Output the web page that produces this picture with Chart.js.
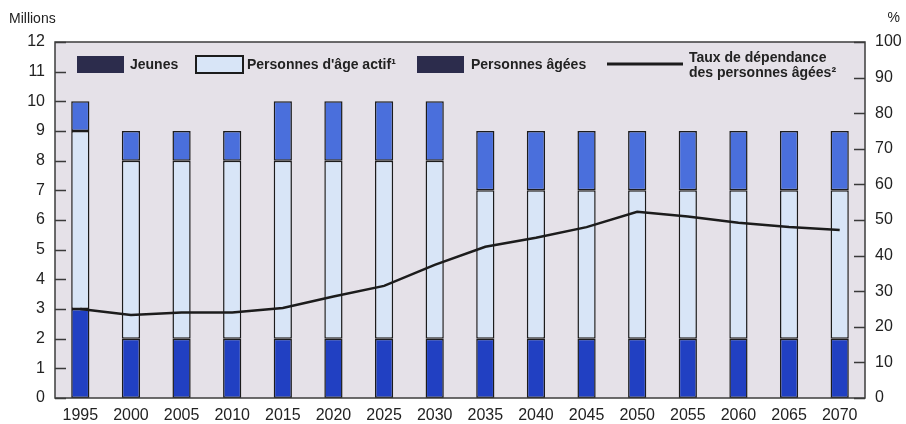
<!DOCTYPE html>
<html lang="fr">
<head>
<meta charset="utf-8">
<title>Population et taux de dépendance</title>
<script src="https://cdn.jsdelivr.net/npm/chart.js@4.4.1/dist/chart.umd.min.js"></script>
<style>
  html, body { margin: 0; padding: 0; background: #ffffff; }
  #wrap { width: 906px; height: 424px; position: relative; }
</style>
</head>
<body>
<div id="wrap"><canvas id="c" width="906" height="424"></canvas></div>
<script>
// Années de projection
const years = ['1995', '2000', '2005', '2010', '2015', '2020', '2025', '2030',
               '2035', '2040', '2045', '2050', '2055', '2060', '2065', '2070'];

// Population par groupe d'âge (millions)
const jeunes = [3, 2, 2, 2, 2, 2, 2, 2, 2, 2, 2, 2, 2, 2, 2, 2];
const ageActif = [6, 6, 6, 6, 6, 6, 6, 6, 5, 5, 5, 5, 5, 5, 5, 5];
const agees = [1, 1, 1, 1, 2, 2, 2, 2, 2, 2, 2, 2, 2, 2, 2, 2];

// Taux de dépendance des personnes âgées (%)
const tauxDependance = [25, 23.3, 24, 24, 25.3, 28.5, 31.5, 37.4,
                        42.5, 45, 48, 52.3, 51, 49.2, 48, 47.2];

// Graduations des deux axes
const millionsTicks = [0, 1, 2, 3, 4, 5, 6, 7, 8, 9, 10, 11, 12];
const pctTicks = [0, 10, 20, 30, 40, 50, 60, 70, 80, 90, 100];

const FONT = "'Liberation Sans', Arial, Helvetica, sans-serif";
const INK = '#222222';
const EDGE = '#1c1c1c';
const C_JEUNES = '#2140c2';
const C_ACTIF = '#d8e5f7';
const C_AGEES = '#4a6fdc';
const PLOT_BG = '#e5e1e8';
const SWATCH_DARK = '#2c2c4c';

// Fond gris de la zone de tracé
const plotBackground = {
  id: 'plotBackground',
  beforeDraw(chart) {
    const { ctx, chartArea: a } = chart;
    ctx.save();
    ctx.fillStyle = PLOT_BG;
    ctx.fillRect(a.left, a.top, a.right - a.left, a.bottom - a.top);
    ctx.restore();
  }
};

// Cadre, graduations intérieures, unités et légende
const frameAndLegend = {
  id: 'frameAndLegend',
  afterDraw(chart) {
    const { ctx, chartArea: a, scales } = chart;
    ctx.save();

    // graduations tournées vers l'intérieur
    ctx.strokeStyle = '#3a3a3a';
    ctx.lineWidth = 1.5;
    ctx.beginPath();
    scales.y.ticks.forEach(t => {
      const py = Math.round(scales.y.getPixelForValue(t.value)) + 0.5;
      ctx.moveTo(a.left, py); ctx.lineTo(a.left + 11, py);
    });
    scales.y1.ticks.forEach(t => {
      const py = Math.round(scales.y1.getPixelForValue(t.value)) + 0.5;
      ctx.moveTo(a.right, py); ctx.lineTo(a.right - 11, py);
    });
    ctx.stroke();

    // cadre
    ctx.strokeStyle = '#3c3c3c';
    ctx.lineWidth = 1.5;
    ctx.strokeRect(a.left, a.top, a.right - a.left, a.bottom - a.top);

    // unités des axes
    ctx.fillStyle = INK;
    ctx.font = '14px ' + FONT;
    ctx.textBaseline = 'middle';
    ctx.textAlign = 'left';
    ctx.fillText('Millions', 9, 19);
    ctx.textAlign = 'right';
    ctx.fillText('%', 900, 18);

    // légende
    const ds = chart.data.datasets;
    const rowY = 64;
    ctx.font = 'bold 14px ' + FONT;
    ctx.textAlign = 'left';
    ctx.textBaseline = 'middle';

    const swatch = (x, fill, border) => {
      ctx.fillStyle = fill;
      ctx.fillRect(x, rowY - 8, 47, 17);
      if (border) {
        ctx.strokeStyle = EDGE;
        ctx.lineWidth = 2;
        ctx.strokeRect(x, rowY - 8, 47, 17);
      }
    };
    swatch(77, SWATCH_DARK, false);
    ctx.fillStyle = INK;
    ctx.fillText(ds[0].label, 130, rowY + 1);

    swatch(196, C_ACTIF, true);
    ctx.fillStyle = INK;
    ctx.fillText(ds[1].label, 247, rowY + 1);

    swatch(417, SWATCH_DARK, false);
    ctx.fillStyle = INK;
    ctx.fillText(ds[2].label, 471, rowY + 1);

    ctx.strokeStyle = EDGE;
    ctx.lineWidth = 3;
    ctx.beginPath();
    ctx.moveTo(607, rowY); ctx.lineTo(683, rowY);
    ctx.stroke();
    ctx.fillStyle = INK;
    const lines = ds[3].label;
    ctx.fillText(lines[0], 689, 58);
    ctx.fillText(lines[1], 689, 73);

    ctx.restore();
  }
};

const barStyle = {
  borderColor: EDGE,
  borderWidth: 1.5,
  borderSkipped: false,
  barPercentage: 0.36,
  categoryPercentage: 1.0,
  yAxisID: 'y',
  stack: 'pop',
  order: 1
};

new Chart(document.getElementById('c'), {
  type: 'bar',
  data: {
    labels: years,
    datasets: [
      Object.assign({ label: 'Jeunes', data: jeunes, backgroundColor: C_JEUNES }, barStyle),
      Object.assign({ label: "Personnes d'âge actif¹", data: ageActif, backgroundColor: C_ACTIF }, barStyle),
      Object.assign({ label: 'Personnes âgées', data: agees, backgroundColor: C_AGEES }, barStyle),
      {
        type: 'line',
        label: ['Taux de dépendance', 'des personnes âgées²'],
        data: tauxDependance,
        yAxisID: 'y1',
        borderColor: EDGE,
        borderWidth: 2.5,
        pointRadius: 0,
        tension: 0,
        fill: false,
        order: 0
      }
    ]
  },
  options: {
    responsive: false,
    animation: false,
    devicePixelRatio: 1,
    layout: { padding: { top: 42, left: 0, right: 0, bottom: 0 } },
    plugins: {
      legend: { display: false },
      tooltip: { enabled: false },
      title: { display: false }
    },
    scales: {
      x: {
        stacked: true,
        offset: true,
        grid: { display: false, drawTicks: false },
        border: { display: false },
        ticks: {
          color: INK,
          font: { family: FONT, size: 16 },
          padding: 8,
          maxRotation: 0,
          autoSkip: false
        },
        afterFit(s) { s.height = 26; }
      },
      y: {
        stacked: true,
        position: 'left',
        min: 0,
        max: 12,
        afterBuildTicks(s) { s.ticks = millionsTicks.map(v => ({ value: v })); },
        grid: { display: false, drawTicks: false },
        border: { display: false },
        ticks: {
          color: INK,
          font: { family: FONT, size: 16 },
          padding: 10
        },
        afterFit(s) { s.width = 55; }
      },
      y1: {
        position: 'right',
        min: 0,
        max: 100,
        afterBuildTicks(s) { s.ticks = pctTicks.map(v => ({ value: v })); },
        grid: { display: false, drawTicks: false },
        border: { display: false },
        ticks: {
          color: INK,
          font: { family: FONT, size: 16 },
          padding: 10
        },
        afterFit(s) { s.width = 41; }
      }
    }
  },
  plugins: [plotBackground, frameAndLegend]
});
</script>
</body>
</html>
